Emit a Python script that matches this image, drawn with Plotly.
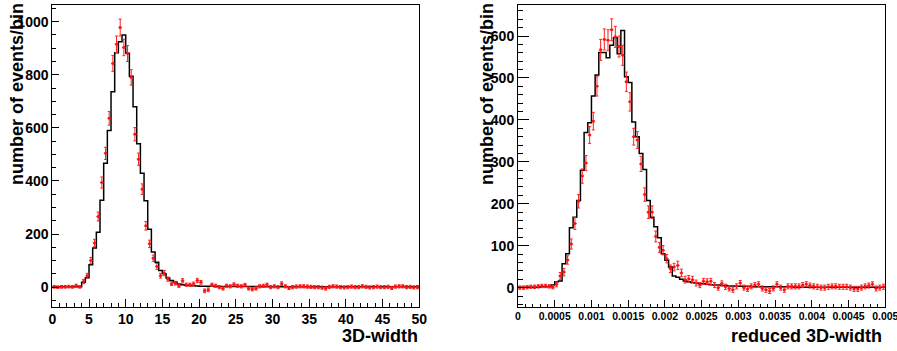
import numpy as np
import plotly.graph_objects as go

# ---------------- Left panel: 3D-width (100 bins on [0, 50]) ----------------
w_range = (0.0, 50.0)
w_nbins = 100
w_mc = [1, 1, 1, 1, 1, 1, 1, 1, 18, 35,
        84, 147, 207, 327, 467, 590, 736, 883, 925, 950,
        881, 795, 680, 540, 429, 325, 218, 132, 94, 63,
        50, 34, 25, 19, 12, 9, 7, 6, 5, 4,
        3, 3, 3, 3, 2, 2, 2, 2, 2, 2,
        2, 2, 2, 2, 2, 2, 2, 1, 1, 1,
        1, 1, 1, 1, 1, 1, 1, 1, 1, 1,
        1, 1, 1, 1, 1, 1, 1, 1, 1, 1,
        1, 1, 1, 1, 1, 1, 1, 1, 1, 1,
        1, 1, 1, 1, 1, 1, 1, 1, 1, 1]
w_data = [1, 0, 1, 1, 2, 1, 5, 1, 21, 43,
          100, 166, 266, 394, 504, 636, 843, 915, 978, 903,
          880, 790, 576, 482, 369, 231, 163, 109, 78, 43,
          53, 30, 13, 15, 5, 24, 9, 9, 12, 25,
          18, -14, -10, 9, 5, 0, -5, 5, 3, 10,
          5, 3, 8, -5, -8, -5, 3, 5, 9, 0,
          3, 0, 13, 3, -3, 0, 2, 3, 3, 2,
          1, 0, 0, -2, -5, 1, 3, 2, 0, -1,
          0, 2, 0, 0, 3, 1, -1, 0, 2, 0,
          0, 1, -3, 2, 3, 3, 0, 1, -1, 0]
w_err = [5, 5, 5, 5, 5, 5, 6, 5, 8, 9,
         12, 14, 17, 21, 23, 26, 30, 31, 32, 31,
         30, 29, 25, 23, 20, 16, 14, 12, 11, 9,
         10, 8, 7, 7, 6, 8, 6, 6, 7, 8,
         7, 7, 7, 6, 6, 6, 6, 6, 6, 6,
         6, 6, 6, 6, 6, 6, 6, 6, 6, 6,
         6, 6, 7, 6, 6, 6, 6, 6, 6, 6,
         6, 6, 6, 6, 6, 6, 6, 6, 6, 6,
         6, 6, 6, 6, 6, 6, 6, 6, 6, 6,
         6, 6, 6, 6, 6, 6, 6, 6, 6, 6]
w_xticks = [0, 5, 10, 15, 20, 25, 30, 35, 40, 45, 50]
w_xlabels = ["0", "5", "10", "15", "20", "25", "30", "35", "40", "45", "50"]
w_yticks = [0, 200, 400, 600, 800, 1000]
w_ylabels = ["0", "200", "400", "600", "800", "1000"]

# ---------------- Right panel: reduced 3D-width (100 bins on [0, 0.005]) ----------------
r_range = (0.0, 0.005)
r_nbins = 100
r_mc = [1, 1, 1, 1, 1, 1, 2, 2, 2, 6,
        14, 16, 57, 81, 143, 168, 208, 280, 370, 393,
        457, 507, 561, 561, 548, 578, 596, 558, 613, 503,
        489, 395, 360, 320, 282, 208, 168, 145, 119, 81,
        65, 49, 28, 25, 20, 16, 14, 12, 11, 10,
        9, 8, 7, 6, 6, 5, 5, 4, 4, 3,
        3, 3, 3, 2, 2, 2, 2, 2, 2, 2,
        2, 2, 2, 2, 2, 1, 1, 1, 1, 1,
        1, 1, 1, 1, 1, 1, 1, 1, 1, 1,
        1, 1, 1, 1, 1, 1, 1, 1, 1, 1]
r_data = [0, 0, 1, 2, 2, 3, 4, 4, 3, 1,
          8, 28, 37, 66, 104, 153, 206, 266, 297, 364,
          397, 480, 567, 592, 590, 615, 598, 575, 554, 491,
          443, 360, 352, 295, 222, 180, 180, 122, 96, 89,
          69, 45, 49, 53, 35, 19, 21, 19, 11, 6,
          15, 14, 15, 6, 0, 10, 2, -2, -5, 3,
          11, 0, -3, 3, 6, 8, -2, -5, -8, -2,
          8, 0, -5, 3, 3, 3, 3, 6, 8, 5,
          3, 2, 0, 0, 2, 3, 3, 2, 2, 2,
          0, -3, -3, 0, 3, 5, 8, -2, 0, 2]
r_err = [4, 4, 4, 4, 4, 4, 4, 4, 4, 4,
         6, 8, 9, 10, 12, 14, 16, 17, 18, 20,
         21, 23, 25, 25, 25, 26, 25, 25, 24, 23,
         22, 20, 20, 18, 16, 15, 15, 13, 12, 11,
         10, 9, 9, 10, 9, 8, 8, 8, 7, 6,
         7, 7, 7, 6, 6, 6, 6, 6, 6, 6,
         6, 6, 6, 6, 6, 6, 6, 6, 6, 6,
         6, 6, 6, 6, 6, 6, 6, 6, 6, 6,
         6, 6, 6, 6, 6, 6, 6, 6, 6, 6,
         6, 6, 6, 6, 6, 6, 6, 6, 6, 6]
r_xticks = [0, 0.0005, 0.001, 0.0015, 0.002, 0.0025, 0.003, 0.0035, 0.004, 0.0045, 0.005]
r_xlabels = ["0", "0.0005", "0.001", "0.0015", "0.002", "0.0025", "0.003", "0.0035",
             "0.004", "0.0045", "0.005"]
r_yticks = [0, 100, 200, 300, 400, 500, 600]
r_ylabels = ["0", "100", "200", "300", "400", "500", "600"]

y_title = "number of events/bin"
w_title = "3D-width"
r_title = "reduced 3D-width"

W, H = 897, 351
FONT = "Liberation Sans"

fig = go.Figure()


def add_panel(xa, ya, rng, nbins, mc, data, err):
    edges = np.linspace(rng[0], rng[1], nbins + 1)
    centers = 0.5 * (edges[:-1] + edges[1:])
    half = (rng[1] - rng[0]) / nbins / 2.0
    xs = np.append(edges[:-1], edges[-1])
    ys = np.append(np.array(mc, dtype=float), mc[-1])
    fig.add_trace(go.Scatter(
        x=xs, y=ys, mode="lines",
        line=dict(color="black", width=1.5, shape="hv"),
        xaxis=xa, yaxis=ya, hoverinfo="skip", showlegend=False))
    fig.add_trace(go.Scatter(
        x=centers, y=data, mode="markers",
        marker=dict(color="#ff1010", size=2.5, symbol="square"),
        error_y=dict(type="data", array=err, color="#ff2020", thickness=1, width=1.5),
        error_x=dict(type="constant", value=half, color="#ff2020", thickness=1, width=0),
        xaxis=xa, yaxis=ya, showlegend=False))


add_panel("x", "y", w_range, w_nbins, w_mc, w_data, w_err)
add_panel("x2", "y2", r_range, r_nbins, r_mc, r_data, r_err)


def axis_common(**kw):
    d = dict(showline=True, linecolor="black", linewidth=1, mirror=True,
             showgrid=False, zeroline=False, ticks="inside", tickcolor="black",
             tickwidth=1, tickmode="array", automargin=False,
             ticklabeloverflow="allow")
    d.update(kw)
    return d


ydom = [1 - 306.5 / H, 1 - 5 / H]

fig.update_layout(
    width=W, height=H, autosize=False,
    margin=dict(l=0, r=0, t=0, b=0, pad=0),
    paper_bgcolor="white", plot_bgcolor="white",
    showlegend=False,
    xaxis=axis_common(
        domain=[52.3 / W, 419.3 / W], range=list(w_range), anchor="y",
        tickvals=w_xticks, ticktext=w_xlabels, ticklen=8,
        tickfont=dict(family=FONT, size=14, color="black", weight="bold"),
        minor=dict(dtick=1, tick0=0, ticks="inside", ticklen=4, tickcolor="black", tickwidth=1)),
    yaxis=axis_common(
        domain=ydom, range=[-73, 1063], anchor="x",
        tickvals=w_yticks, ticktext=w_ylabels, ticklen=7,
        tickfont=dict(family=FONT, size=14, color="black", weight="bold"),
        minor=dict(dtick=50, tick0=0, ticks="inside", ticklen=4, tickcolor="black", tickwidth=1)),
    xaxis2=axis_common(
        domain=[518 / W, 885.3 / W], range=list(r_range), anchor="y2",
        tickvals=r_xticks, ticktext=r_xlabels, ticklen=7,
        tickfont=dict(family=FONT, size=10.5, color="black", weight="bold"),
        minor=dict(dtick=0.0001, tick0=0, ticks="inside", ticklen=3, tickcolor="black", tickwidth=1)),
    yaxis2=axis_common(
        domain=ydom, range=[-45, 674], anchor="x2",
        tickvals=r_yticks, ticktext=r_ylabels, ticklen=11,
        tickfont=dict(family=FONT, size=14, color="black", weight="bold"),
        minor=dict(dtick=20, tick0=0, ticks="inside", ticklen=5, tickcolor="black", tickwidth=1)),
)

title_font = dict(family=FONT, size=18, color="black", weight="bold")
fig.add_annotation(text=y_title, xref="paper", yref="paper", x=17 / W, y=1 - 1 / H,
                   xanchor="center", yanchor="top", textangle=-90, showarrow=False,
                   font=title_font)
fig.add_annotation(text=y_title, xref="paper", yref="paper", x=487 / W, y=1 - 1 / H,
                   xanchor="center", yanchor="top", textangle=-90, showarrow=False,
                   font=title_font)
fig.add_annotation(text=w_title, xref="paper", yref="paper", x=420 / W, y=3 / H,
                   xanchor="right", yanchor="bottom", showarrow=False, font=title_font)
fig.add_annotation(text=r_title, xref="paper", yref="paper", x=884 / W, y=3 / H,
                   xanchor="right", yanchor="bottom", showarrow=False, font=title_font)

fig.write_html(
    "out.html",
    config={"displayModeBar": False},
    post_script="document.body.style.margin='0px';document.body.style.padding='0px';"
                "document.body.style.overflow='hidden';",
)
